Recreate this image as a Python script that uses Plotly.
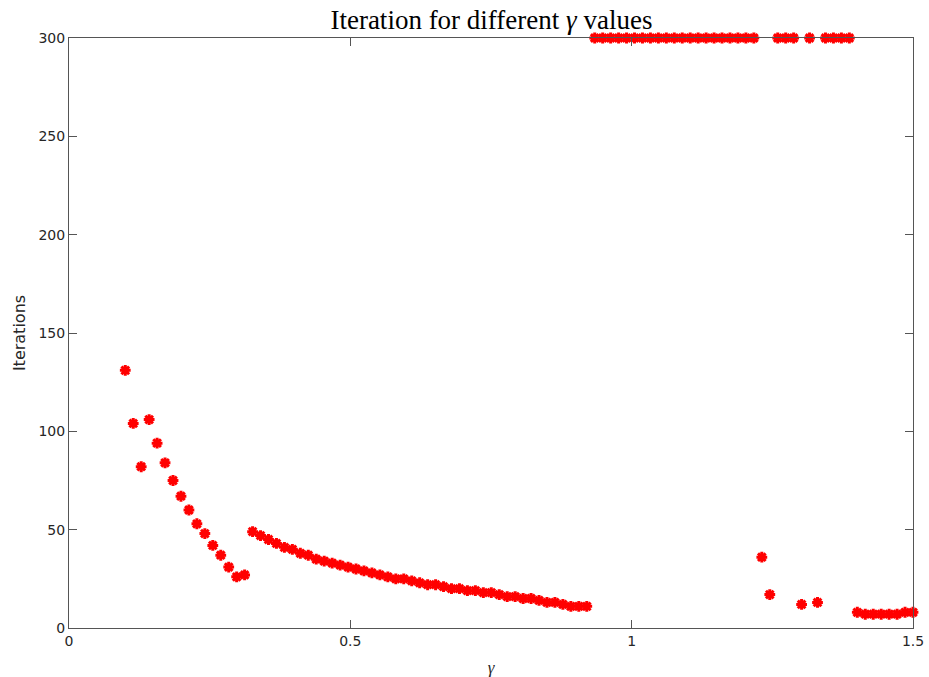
import numpy as np
import plotly.graph_objects as go

gamma = np.linspace(0.1, 1.5, 100)

iterations = [
    131, 104, 82, 106, 94, 84, 75, 67, 60, 53, 48, 42, 37, 31, 26, 27,
    49, 47, 45, 43, 41, 40, 38, 37, 35, 34, 33, 32, 31, 30, 29, 28, 27, 26, 25, 25,
    24, 23, 22, 22, 21, 20, 20, 19, 19, 18, 18, 17, 16, 16, 15, 15, 14, 13, 13, 12, 11, 11, 11,
    300, 300, 300, 300, 300, 300, 300, 300, 300, 300, 300, 300, 300, 300, 300, 300, 300, 300, 300, 300, 300,
    36, 17, 300, 300, 300, 12, 300, 13, 300, 300, 300, 300,
    8, 7, 7, 7, 7, 7, 8, 8,
]

x_ticks = [0, 0.5, 1, 1.5]
x_tick_labels = ["0", "0.5", "1", "1.5"]
y_ticks = [0, 50, 100, 150, 200, 250, 300]

fig = go.Figure()
fig.add_trace(go.Scatter(
    x=gamma, y=iterations, mode="markers",
    marker=dict(symbol="asterisk-open", size=9, color="red",
                line=dict(color="red", width=3)),
    cliponaxis=False, showlegend=False,
))

axis_common = dict(
    showline=True, linecolor="#555555", linewidth=1, mirror="ticks",
    ticks="inside", ticklen=8, tickcolor="#555555", tickwidth=1,
    showgrid=False, zeroline=False, automargin=False,
    tickfont=dict(family="DejaVu Sans", size=14, color="#262626"),
)

fig.update_layout(
    width=929, height=677,
    margin=dict(l=69, r=16, t=38, b=49),
    paper_bgcolor="white", plot_bgcolor="white",
    title=dict(text="Iteration for different <i>γ</i> values",
               x=0.529, xanchor="center", y=0.9705, yanchor="middle",
               font=dict(family="Liberation Serif", size=27, color="black")),
    xaxis=dict(range=[0, 1.5], tickvals=x_ticks, ticktext=x_tick_labels,
               title=dict(text="<i>γ</i>", standoff=13,
                          font=dict(family="Liberation Serif", size=17, color="#262626")),
               **axis_common),
    yaxis=dict(range=[0, 300], tickvals=y_ticks,
               title=dict(text="Iterations", standoff=8,
                          font=dict(family="DejaVu Sans", size=16, color="#262626")),
               **axis_common),
)

fig.write_html("out.html", config={"displayModeBar": False},
               post_script="document.body.style.margin='0px';")
